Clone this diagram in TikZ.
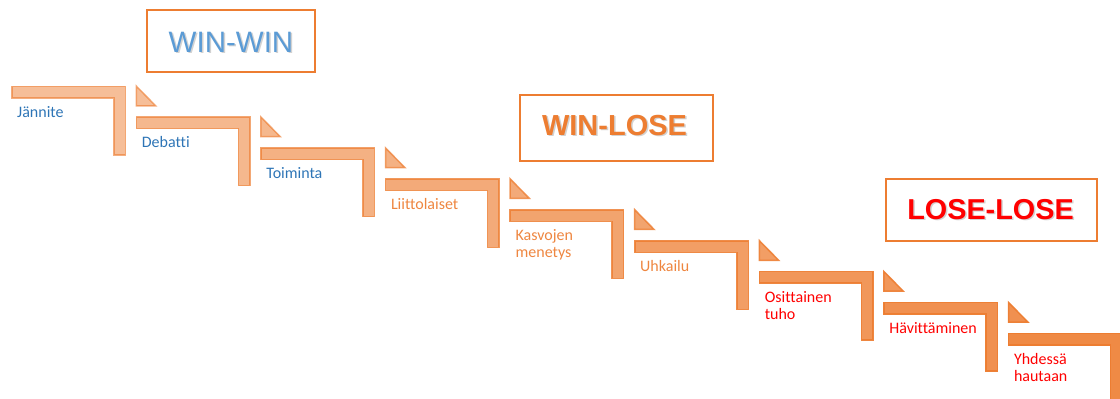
\documentclass[tikz,border=0pt]{standalone}
\usepackage{fontspec}
\setmainfont{Liberation Sans}
\newfontfamily\labfont[Ligatures=NoCommon]{Carlito}
\newfontfamily\titlefont{Liberation Sans}
\definecolor{stepor}{HTML}{ED7D31}
\definecolor{labblue}{HTML}{2E75B6}
\definecolor{labor}{HTML}{EE8640}
\definecolor{labred}{HTML}{FF0000}
\definecolor{titleblue}{HTML}{5B9BD5}
\definecolor{shadowgray}{HTML}{7F7F7F}
\tikzset{
  stepshape/.style={fill=stepor, draw=stepor, line width=1.5pt, line join=miter},
  steplabel/.style={font=\labfont\fontsize{16}{17}\selectfont, inner sep=0pt, align=left, anchor=base west},
  tagbox/.style={draw=stepor, line width=2.5pt, minimum width=#1, inner sep=0pt},
  titletext/.style={inner sep=0pt, anchor=base},
  titleshadow/.style={inner sep=0pt, anchor=base, text=shadowgray, text opacity=0.35},
}
\begin{document}
\begin{tikzpicture}[x=1pt, y=-1pt]
\useasboundingbox (0,0) rectangle (1120,399);
\clip (0,0) rectangle (1120,399);
% steps
\foreach \i/\lab/\col/\ex in {0/J\"annite/labblue/0, 1/Debatti/labblue/0, 2/Toiminta/labblue/0,
  3/Liittolaiset/labor/0, 4/{Kasvojen\\menetys}/labor/17, 5/Uhkailu/labor/0,
  6/{Osittainen\\tuho}/labred/17, 7/H\"avitt\"aminen/labred/0, 8/{Yhdess\"a\\hautaan}/labred/17}{
  \pgfmathsetmacro\x{11+124.6*\i}
  \pgfmathsetmacro\y{85.5+30.9*\i}
  \pgfmathsetmacro\f{0.5+0.05*\i}
  \pgfmathsetmacro\g{min(1,0.62+0.05*\i)}
  \path[stepshape, fill opacity=\f, draw opacity=\g]
    (\x+0.75,\y+0.75) -- (\x+114.25,\y+0.75) -- (\x+114.25,\y+69.25)
    -- (\x+102.75,\y+69.25) -- (\x+102.75,\y+12.25) -- (\x+0.75,\y+12.25) -- cycle;
  \ifnum\i<8
    \path[stepshape, fill opacity=\f, draw opacity=\g]
      (\x+125.3,\y+0.6) -- (\x+125.3,\y+20.25) -- (\x+144.6,\y+20.25) -- cycle;
  \fi
  \node[steplabel, text=\col] (l\i) at (\x+6,\y+31.5+\ex) {\lab};
}
% title boxes
\node[tagbox=168pt, minimum height=62pt] (bwin) at (231,41) {};
\node[tagbox=193pt, minimum height=66pt] (bwl) at (616.5,128) {};
\node[tagbox=211pt, minimum height=62pt] (bll) at (991.5,210) {};
% title texts with soft shadow
\node[titleshadow, font=\titlefont\fontsize{29.5}{30}\selectfont] at (232.5,53.5) {WIN-WIN};
\node[titletext, font=\titlefont\fontsize{29.5}{30}\selectfont, text=titleblue] (twin) at (231,52) {WIN-WIN};
\node[titleshadow, font=\titlefont\bfseries\fontsize{29}{30}\selectfont] at (616,136.5) {WIN-LOSE};
\node[titletext, font=\titlefont\bfseries\fontsize{29}{30}\selectfont, text=stepor] (twl) at (614.5,135) {WIN-LOSE};
\node[titleshadow, font=\titlefont\bfseries\fontsize{28.8}{30}\selectfont] at (992,220.5) {LOSE-LOSE};
\node[titletext, font=\titlefont\bfseries\fontsize{28.8}{30}\selectfont, text=labred] (tll) at (990.5,219) {LOSE-LOSE};
\end{tikzpicture}
\end{document}
